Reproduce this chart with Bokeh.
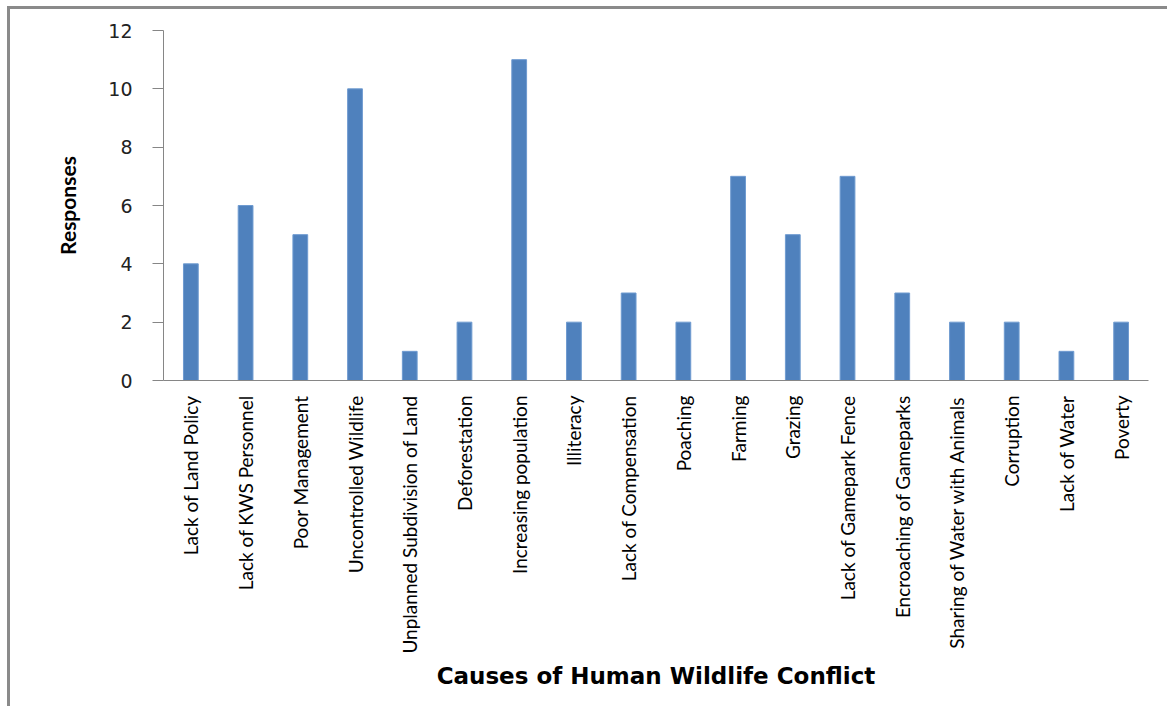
from bokeh.plotting import figure
from bokeh.embed import file_html
from bokeh.resources import INLINE
from bokeh.models import FixedTicker
from math import pi

categories = ["Lack of Land Policy", "Lack of KWS Personnel", "Poor Management",
              "Uncontrolled Wildlife", "Unplanned Subdivision of Land", "Deforestation",
              "Increasing population", "Illiteracy", "Lack of Compensation", "Poaching",
              "Farming", "Grazing", "Lack of Gamepark Fence", "Encroaching of Gameparks",
              "Sharing of Water with Animals", "Corruption", "Lack of Water", "Poverty"]
responses = [4, 6, 5, 10, 1, 2, 11, 2, 3, 2, 7, 5, 7, 3, 2, 2, 1, 2]
y_ticks = [0, 2, 4, 6, 8, 10, 12]

p = figure(x_range=categories, y_range=(0, 12), width=1160, height=700,
           output_backend="svg", toolbar_location=None,
           min_border_left=153, min_border_right=22, min_border_top=21, min_border_bottom=329)
p.styles = {"border-left": "3px solid #8a8a8a", "border-top": "3px solid #8a8a8a",
            "margin-left": "7px", "margin-top": "6px"}

p.vbar(x=categories, top=responses, width=0.27, fill_color="#4F81BD", line_color="#6f9bd0", line_width=1)

p.outline_line_color = None
p.xgrid.grid_line_color = None
p.ygrid.grid_line_color = None

p.yaxis.ticker = FixedTicker(ticks=y_ticks)
p.yaxis.minor_tick_line_color = None
p.yaxis.major_tick_out = 11
p.yaxis.major_tick_in = 0
p.yaxis.axis_line_color = "#868686"
p.yaxis.major_tick_line_color = "#868686"
p.yaxis.major_label_text_font = "DejaVu Sans"
p.yaxis.major_label_text_font_size = "19px"
p.yaxis.major_label_text_color = "#222222"
p.yaxis.major_label_standoff = 20
p.yaxis.axis_label = "Responses"
p.yaxis.axis_label_text_font = "Lato"
p.yaxis.axis_label_text_font_style = "bold"
p.yaxis.axis_label_text_font_size = "21px"
p.yaxis.axis_label_text_color = "#000000"
p.yaxis.axis_label_standoff = 25

p.xaxis.axis_line_color = "#868686"
p.xaxis.major_tick_line_color = None
p.xaxis.minor_tick_line_color = None
p.xaxis.major_label_orientation = pi / 2
p.xaxis.major_label_text_font = "Lato"
p.xaxis.major_label_text_font_size = "19px"
p.xaxis.major_label_text_color = "#000000"
p.xaxis.major_label_standoff = 9
p.xaxis.axis_label = "Causes of Human Wildlife Conflict"
p.xaxis.axis_label_text_font = "DejaVu Sans"
p.xaxis.axis_label_text_font_style = "bold"
p.xaxis.axis_label_text_font_size = "23px"
p.xaxis.axis_label_text_color = "#000000"
p.xaxis.axis_label_standoff = 6

open("out.html", "w").write(file_html(p, INLINE))
